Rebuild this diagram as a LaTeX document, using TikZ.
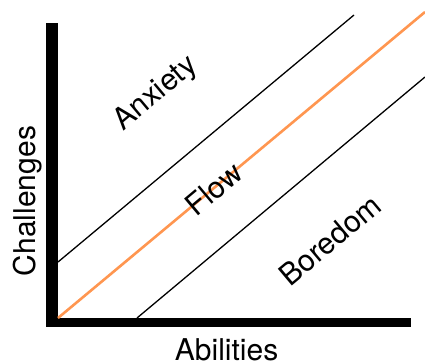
\documentclass[tikz,border=0pt]{standalone}
\usepackage{fontspec}
\setmainfont{TeX Gyre Heros}
\usepackage{xcolor}
\definecolor{flow_orange}{HTML}{FF9650}
\usetikzlibrary{positioning,calc}
\tikzset{AXIS/.style={fill=black,draw=none}}
\tikzset{BOUND/.style={draw=black,line width=1.3pt}}
\tikzset{CHANNEL/.style={draw=flow_orange,line width=2.6pt}}
\tikzset{LABEL/.style={inner sep=0pt,font=\fontsize{30}{36}\selectfont}}

\begin{document}
\begin{tikzpicture}[x=1pt,y=-1pt]

\useasboundingbox (0,0) rectangle (425,362);

% axes
\coordinate (c_origin) at (52,322.5);
\fill[AXIS] (46,23) rectangle (58,327);
\fill[AXIS] (46,318) rectangle (411,327);

% flow channel
\coordinate (c_flow_start) at (58,318);
\coordinate (c_flow_end) at (425,12);
\draw[CHANNEL] (c_flow_start) -- (c_flow_end);

\coordinate (c_upper_start) at (58,262);
\coordinate (c_upper_end) at (354,15);
\draw[BOUND] (c_upper_start) -- (c_upper_end);

\coordinate (c_lower_start) at (137,318);
\coordinate (c_lower_end) at (425,77);
\draw[BOUND] (c_lower_start) -- (c_lower_end);

% labels
\node[LABEL, rotate=40] (n_anxiety) at (156,94) {Anxiety};
\node[LABEL, rotate=40] (n_flow) at (214,189) {Flow};
\node[LABEL, rotate=40] (n_boredom) at (330,240) {Boredom};

\node[LABEL, rotate=90] (n_challenges) at (28,201) {Challenges};
\node[LABEL, anchor=base] (n_abilities) at (226.5,360) {Abilities};

\end{tikzpicture}
\end{document}
